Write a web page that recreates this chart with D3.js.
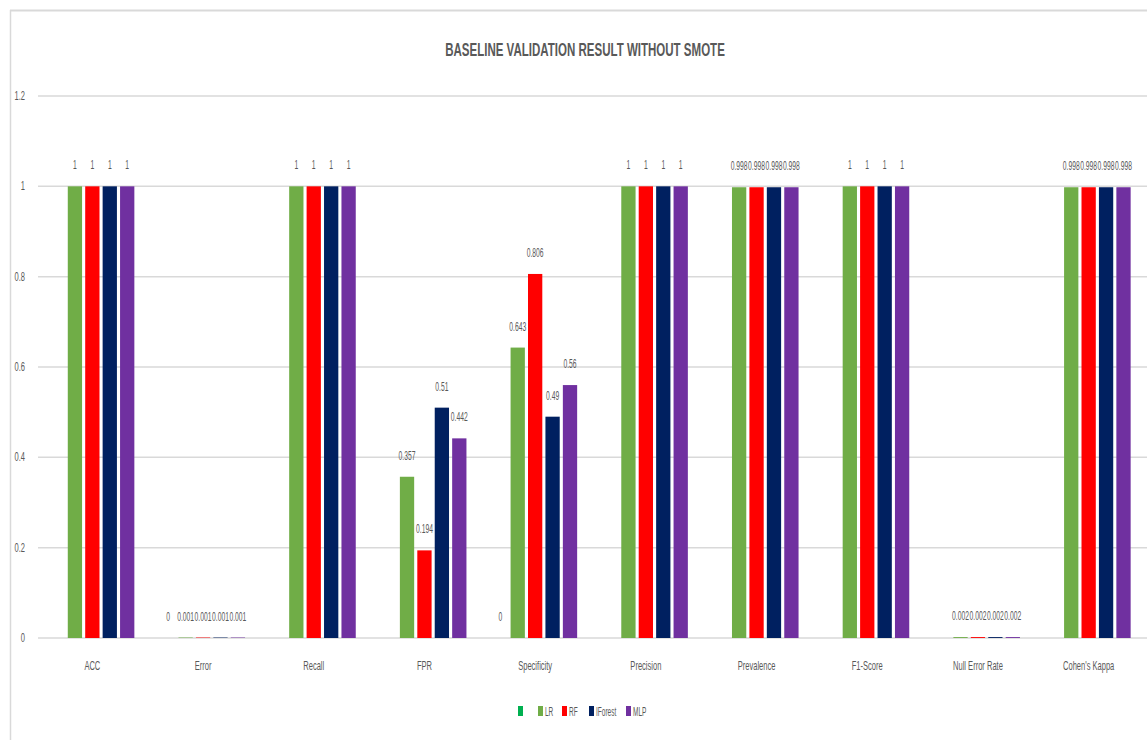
<!DOCTYPE html>
<html>
<head>
<meta charset="utf-8">
<script src="https://cdn.jsdelivr.net/npm/d3@7"></script>
<style>
  body { margin: 0; background: #fff; }
  text { font-family: "Liberation Sans", Arial, sans-serif; fill: #595959; }
</style>
</head>
<body>
<div id="chart-area"></div>
<script>
const categories = ["ACC", "Error", "Recall", "FPR", "Specificity", "Precision", "Prevalence", "F1-Score", "Null Error Rate", "Cohen's Kappa"];
const seriesNames = ["", "LR", "RF", "IForest", "MLP"];
const seriesColors = ["#00b050", "#70ad47", "#ff0000", "#002060", "#7030a0"];

// first (unnamed) series only has values in a few categories
const blankValues = [null, 0, null, null, 0, null, null, null, null, null];
const lrValues = [1, 0.001, 1, 0.357, 0.643, 1, 0.998, 1, 0.002, 0.998];
const rfValues = [1, 0.001, 1, 0.194, 0.806, 1, 0.998, 1, 0.002, 0.998];
const iforestValues = [1, 0.001, 1, 0.51, 0.49, 1, 0.998, 1, 0.002, 0.998];
const mlpValues = [1, 0.001, 1, 0.442, 0.56, 1, 0.998, 1, 0.002, 0.998];
const yTicks = [0, 0.2, 0.4, 0.6, 0.8, 1, 1.2];

const allValues = [blankValues, lrValues, rfValues, iforestValues, mlpValues];
const title = "BASELINE VALIDATION RESULT WITHOUT SMOTE";

const W = 1147, H = 740;
const sx = 0.58; // text is very condensed in the original

const svg = d3.select("#chart-area")
  .append("svg")
  .attr("width", W)
  .attr("height", H);

// chart frame
svg.append("line").attr("x1", 10).attr("x2", W).attr("y1", 10.5).attr("y2", 10.5)
  .attr("stroke", "#d9d9d9").attr("stroke-width", 2);
svg.append("line").attr("x1", 10.5).attr("x2", 10.5).attr("y1", 10).attr("y2", H)
  .attr("stroke", "#d9d9d9").attr("stroke-width", 1.5);

function ctext(parent, x, y, str, size, anchor, weight, scale) {
  const g = parent.append("g").attr("transform", `translate(${x},${y})`);
  g.append("text")
    .attr("transform", `scale(${scale || sx},1)`)
    .attr("text-anchor", anchor || "middle")
    .attr("font-size", size)
    .attr("font-weight", weight || "normal")
    .text(str);
  return g;
}

const x0 = d3.scaleBand().domain(categories).range([37, 1144]);
const x1 = d3.scaleBand().domain(d3.range(seriesNames.length))
  .range([x0.bandwidth() / 2 - 42, x0.bandwidth() / 2 + 42])
  .paddingInner(0.18);
const y = d3.scaleLinear().domain([0, 1.2]).range([638, 96]);

// gridlines
svg.append("g").selectAll("line")
  .data(yTicks)
  .join("line")
  .attr("x1", 38).attr("x2", W)
  .attr("y1", d => y(d)).attr("y2", d => y(d))
  .attr("stroke", "#d9d9d9").attr("stroke-width", 1.5);

// y tick labels
yTicks.forEach(t => ctext(svg, 25, y(t) + 4, String(t), 13, "end"));

// title
ctext(svg, 585, 56, title, 18, "middle", "bold", 0.64);

// bars
const rows = [];
allValues.forEach((vals, s) => {
  vals.forEach((v, i) => {
    if (v !== null) rows.push({ s, cat: categories[i], v });
  });
});

svg.append("g").selectAll("rect")
  .data(rows)
  .join("rect")
  .attr("x", d => x0(d.cat) + x1(d.s))
  .attr("width", x1.bandwidth())
  .attr("y", d => y(d.v))
  .attr("height", d => y(0) - y(d.v))
  .attr("fill", d => seriesColors[d.s]);

// data labels
const labels = svg.append("g");
rows.forEach(d => {
  ctext(labels, x0(d.cat) + x1(d.s) + x1.bandwidth() / 2, y(d.v) - 17, String(d.v), 13, "middle", "normal", 0.52);
});

// category labels
categories.forEach(c => ctext(svg, x0(c) + x0.bandwidth() / 2, 670, c, 13));

// legend
const legendX = [518, 538, 562, 589, 626];
seriesNames.forEach((name, i) => {
  svg.append("rect")
    .attr("x", legendX[i]).attr("y", 706)
    .attr("width", 5).attr("height", 10)
    .attr("fill", seriesColors[i]);
  if (name) ctext(svg, legendX[i] + 7, 716, name, 13, "start", "normal", 0.5);
});
</script>
</body>
</html>
